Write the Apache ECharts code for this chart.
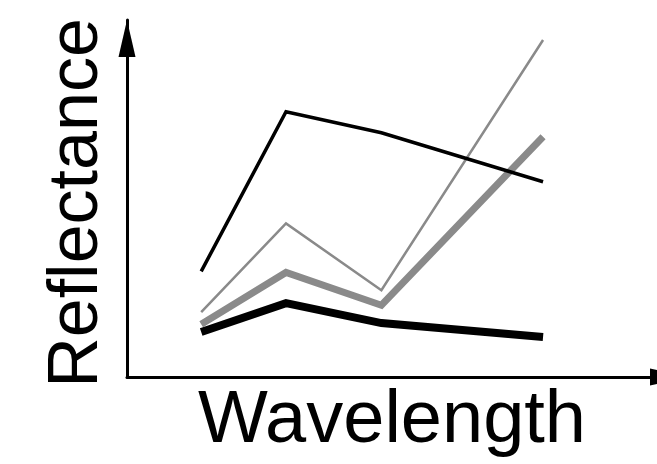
<!DOCTYPE html>
<html>
<head>
<meta charset="utf-8">
<script src="https://cdn.jsdelivr.net/npm/echarts@6/dist/echarts.min.js"></script>
<style>
html,body{margin:0;padding:0;background:#fff;}
#chart{width:657px;height:464px;}
</style>
</head>
<body>
<div id="chart"></div>
<script>
// Wavelength positions (arbitrary units)
var wavelengths = [1.4, 3.0, 4.8, 7.85];
// Reflectance values (arbitrary units) for each curve
var blackThin = [2.96, 7.43, 6.84, 5.47];
var grayThin  = [1.82, 4.30, 2.43, 9.44];
var grayThick = [1.48, 2.93, 2.01, 6.73];
var blackThick = [1.26, 2.07, 1.51, 1.12];

function pairs(ys){ return wavelengths.map(function(x,i){ return [x, ys[i]]; }); }

var chart = echarts.init(document.getElementById('chart'), null, {renderer:'canvas'});
var font = 'Liberation Sans, Arial, sans-serif';
function mkSeries(name, ys, color, width){
  return {
    name: name, type: 'line', data: pairs(ys), showSymbol: false, symbol: 'none',
    lineStyle: {color: color, width: width, cap: 'butt', join: 'miter'},
    silent: true, animation: false
  };
}
chart.setOption({
  animation: false,
  grid: {left: 127, right: 0, top: 20, bottom: 86, containLabel: false},
  xAxis: {
    type: 'value', min: 0, max: 10,
    name: 'Wavelength', nameLocation: 'middle', nameGap: 8,
    nameTextStyle: {fontFamily: font, fontSize: 74, color: '#000', verticalAlign: 'top'},
    axisLine: {show: true, onZero: false, symbol: ['none', 'triangle'], symbolSize: [17, 37], symbolOffset: [0, 11.5],
      lineStyle: {color: '#000', width: 3}},
    axisTick: {show: false}, axisLabel: {show: false}, splitLine: {show: false}
  },
  yAxis: {
    type: 'value', min: 0, max: 10,
    name: 'Reflectance', nameLocation: 'middle', nameGap: 14, nameRotate: 90,
    nameTextStyle: {fontFamily: font, fontSize: 70, color: '#000', padding: [0, 9, 0, 0]},
    axisLine: {show: true, onZero: false, symbol: ['none', 'triangle'], symbolSize: [17, 37], symbolOffset: [0, -18.5],
      lineStyle: {color: '#000', width: 3}},
    axisTick: {show: false}, axisLabel: {show: false}, splitLine: {show: false}
  },
  series: [
    mkSeries('Curve C', grayThick, '#8a8a8a', 7),
    mkSeries('Curve B', grayThin, '#8a8a8a', 2.5),
    mkSeries('Curve D', blackThick, '#000', 8),
    mkSeries('Curve A', blackThin, '#000', 3.5)
  ]
});
</script>
</body>
</html>
